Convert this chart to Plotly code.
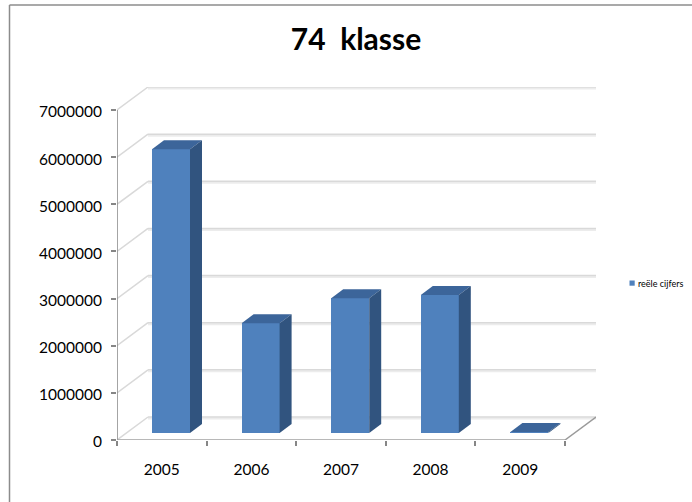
import plotly.graph_objects as go

categories = ["2005", "2006", "2007", "2008", "2009"]
values = [6020000, 2330000, 2860000, 2930000, 20000]
y_ticks = [0, 1000000, 2000000, 3000000, 4000000, 5000000, 6000000, 7000000]
series_name = "reële cijfers"
title_text = "74\u00a0 klasse"

# Pixel geometry of the oblique projection
W, H = 692, 502
L, R, T, B = 117, 96, 87, 62
PW, PH = W - L - R, H - T - B
STEP_PX = 89.6
UNIT_PX = 47.14 / 1000000
X_MAX = PW / STEP_PX
Y_MAX = PH / UNIT_PX
WALL_DX = 31 / STEP_PX
WALL_DY = 23 / UNIT_PX
BAR_DX = 12 / STEP_PX
BAR_DY = 9 / UNIT_PX
BASE = 7 / UNIT_PX
BAR_L = 35 / STEP_PX
BAR_W = 38 / STEP_PX

GRID = "#d9d9d9"
GRID2 = "#ececec"
AXIS = "#868686"
FRAME = "#8c8c8c"

def px(x):
    return (x - L) / PW

def py(y):
    return (H - B - y) / PH

shapes = []
def seg(x0, y0, x1, y1, color, width):
    shapes.append(dict(type="line", xref="x", yref="y", x0=x0, y0=y0, x1=x1, y1=y1,
                       line=dict(color=color, width=width), layer="below"))

n = len(categories)
for v in y_ticks:
    seg(WALL_DX, v + WALL_DY - 1.5 / UNIT_PX, n + WALL_DX, v + WALL_DY - 1.5 / UNIT_PX, GRID2, 2)
    seg(WALL_DX, v + WALL_DY, n + WALL_DX, v + WALL_DY, GRID, 1.5)
    seg(0, v, WALL_DX, v + WALL_DY, GRID, 1.5)
seg(n, 0, n + WALL_DX, WALL_DY, "#9a9a9a", 1.5)
seg(0, 0, 0, y_ticks[-1], AXIS, 1.5)
seg(0, 0, n, 0, "#a0a0a0", 1.5)
# top and left edges of the frame only: the picture crops the others
for (a, b, c, d) in [(9.5, 5, W, 5), (9.5, 5, 9.5, H)]:
    shapes.append(dict(type="line", xref="paper", yref="paper",
                       x0=px(a), y0=py(b), x1=px(c), y1=py(d),
                       line=dict(color=FRAME, width=1.5), layer="below"))
# legend swatch
shapes.append(dict(type="rect", xref="paper", yref="paper",
                   x0=px(629.5), x1=px(634.7), y0=py(280.5), y1=py(285.7),
                   fillcolor="#4f81bd", line=dict(width=0), layer="above"))

fig = go.Figure()
xc = [i + BAR_L + BAR_W / 2 for i in range(n)]
fig.add_trace(go.Bar(x=xc, y=values, base=[BASE] * n, width=BAR_W, name=series_name,
                     marker=dict(color="#4f81bd", line=dict(width=0)), showlegend=False))
for i, v in enumerate(values):
    x0 = i + BAR_L
    x1 = x0 + BAR_W
    top = BASE + v
    # top face
    fig.add_trace(go.Scatter(x=[x0, x1, x1 + BAR_DX, x0 + BAR_DX, x0],
                             y=[top, top, top + BAR_DY, top + BAR_DY, top],
                             mode="lines", fill="toself", fillcolor="#3c659a",
                             line=dict(width=0, color="#3c659a"), showlegend=False, hoverinfo="skip"))
    # side face
    fig.add_trace(go.Scatter(x=[x1, x1 + BAR_DX, x1 + BAR_DX, x1, x1],
                             y=[BASE, BASE + BAR_DY, top + BAR_DY, top, BASE],
                             mode="lines", fill="toself", fillcolor="#31547f",
                             line=dict(width=0, color="#31547f"), showlegend=False, hoverinfo="skip"))

fig.update_layout(
    width=W, height=H, autosize=False,
    margin=dict(l=L, r=R, t=T, b=B, pad=0),
    paper_bgcolor="white", plot_bgcolor="rgba(0,0,0,0)",
    font=dict(family="Lato, Carlito, Calibri, sans-serif", color="black", size=15.5),
    title=dict(text="<b>%s</b>" % title_text, x=356 / W, xanchor="center", y=1 - 39 / H, yanchor="middle",
               font=dict(size=30, color="black")),
    showlegend=False,
    annotations=[dict(text=series_name, xref="paper", yref="paper", x=px(636.5), y=py(283),
                      xanchor="left", yanchor="middle", showarrow=False, align="left",
                      font=dict(size=9, color="black"), borderpad=0)],
    xaxis=dict(range=[0, X_MAX], showgrid=False, zeroline=False, showline=False,
               tickmode="array", tickvals=[i + 0.5 for i in range(n)], ticktext=categories,
               ticks="", ticklen=0, ticklabelstandoff=18,
               minor=dict(tickmode="array", tickvals=list(range(n + 1)), ticks="outside",
                          ticklen=5, tickcolor=AXIS, tickwidth=1.5, showgrid=False),
               tickfont=dict(size=15.5), fixedrange=True),
    yaxis=dict(range=[0, Y_MAX], showgrid=False, zeroline=False, showline=False,
               tickmode="array", tickvals=y_ticks, ticktext=[str(v) for v in y_ticks],
               ticks="outside", ticklen=5, tickcolor=AXIS, tickwidth=1.5, ticklabelstandoff=6,
               ticklabelshift=2, tickfont=dict(size=15.5), fixedrange=True),
    shapes=shapes,
    bargap=0,
)
fig.write_html("out.html", config=dict(displayModeBar=False),
               post_script='document.body.style.margin="0";document.documentElement.style.overflow="hidden";')
